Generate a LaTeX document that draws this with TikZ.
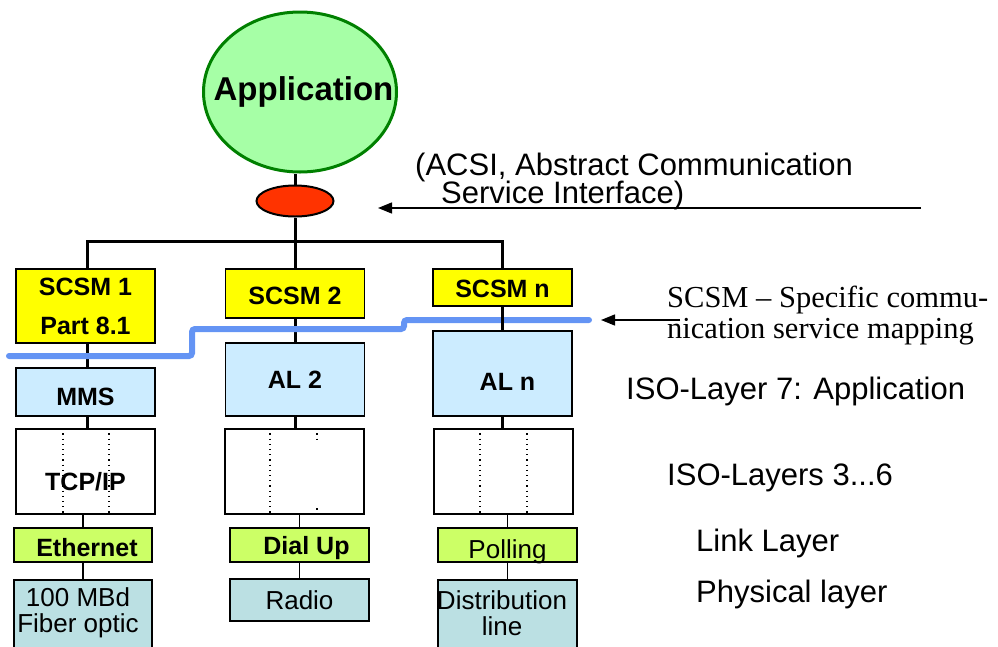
\documentclass[tikz,border=0pt]{standalone}
\usepackage{fontspec}
\setmainfont{Liberation Sans}
\newfontfamily\serifface{Liberation Serif}
\usetikzlibrary{arrows.meta,shapes.geometric}

\definecolor{appgreen}{HTML}{A6FFA6}
\definecolor{appborder}{HTML}{008000}
\definecolor{acsired}{HTML}{FF3300}
\definecolor{scsmyellow}{HTML}{FFFF00}
\definecolor{alblue}{HTML}{CCECFF}
\definecolor{linkgreen}{HTML}{CCFF66}
\definecolor{phyteal}{HTML}{BBE0E3}
\definecolor{mapblue}{HTML}{6494F4}

% set a label lower than the box centre while keeping its natural size
\newcommand\droplabel[2]{\leavevmode\vphantom{#2}\smash{\raisebox{-#1}{#2}}}

\begin{document}
\begin{tikzpicture}[x=1pt,y=-1pt,
  box/.style={draw, line width=1.6pt, inner sep=0pt, align=center, minimum width=139pt},
  boldlbl/.style={font=\fontsize{25}{39}\selectfont\bfseries},
  plainlbl/.style={font=\fontsize{26}{26.5}\selectfont},
  caption/.style={anchor=base west, inner sep=0pt, font=\fontsize{31}{36}\selectfont},
  serifcap/.style={anchor=base west, inner sep=0pt, font=\serifface\fontsize{30.5}{34}\selectfont},
  wire/.style={line width=3pt},
  thinwire/.style={line width=1.6pt},
  tick/.style={line width=1.1pt, dash pattern=on 1.2pt off 4pt},
  ptr/.style={line width=1.4pt, -{Triangle[length=14pt,width=11pt]}}
]
\useasboundingbox (0,0) rectangle (998,646);
\clip (0,0) rectangle (998,646);

% heading fragment at the top edge
\node (headfrag) [anchor=base west, inner sep=0pt, font=\serifface\fontsize{28}{30}\selectfont] at (183,-10) {g};

% application and service interface
\node (app) [ellipse, draw=appborder, fill=appgreen, line width=3pt, inner sep=0pt,
  minimum width=193pt, minimum height=160pt] at (300,92) {};
\node (apptxt) [inner sep=0pt, font=\fontsize{33}{36}\selectfont\bfseries] at (303.5,92) {Application};
\node (acsi) [ellipse, draw, fill=acsired, line width=2pt, inner sep=0pt,
  minimum width=77pt, minimum height=31pt] at (295,201) {};

% service mappings
\node (scsm1) [box, fill=scsmyellow, minimum height=74pt, boldlbl] at (85.5,306) {SCSM 1\\Part 8.1};
\node (scsm2) [box, fill=scsmyellow, minimum height=49pt, boldlbl] at (295,293.5) {\droplabel{2pt}{SCSM 2}};
\node (scsmn) [box, fill=scsmyellow, minimum height=37pt, boldlbl] at (502.5,287.5) {\droplabel{1pt}{SCSM n}};

% application layer
\node (mms) [box, fill=alblue, minimum height=48pt, boldlbl] at (85.5,392) {\droplabel{5pt}{MMS}};
\node (al2) [box, fill=alblue, minimum height=73pt, boldlbl] at (295,379.5) {AL 2};
\node (aln) [box, fill=alblue, minimum height=85pt, boldlbl] at (502.5,373.5) {\hspace*{10pt}\droplabel{8pt}{AL n}};

% layers 3..6
\node (tcp)  [box, fill=white, minimum height=85pt, boldlbl] at (85.5,471.5) {\droplabel{10pt}{TCP/IP}};
\node (mid2) [box, fill=white, minimum height=85pt] at (294.5,471.5) {};
\node (midn) [box, fill=white, minimum height=85pt] at (503.5,471.5) {};

% link layer
\node (eth)  [box, fill=linkgreen, minimum width=138pt, minimum height=34pt, boldlbl] at (83,545) {\hspace*{8pt}\droplabel{3pt}{Ethernet}};
\node (dial) [box, fill=linkgreen, minimum height=34pt, boldlbl] at (299.5,545) {\hspace*{14pt}\droplabel{3pt}{Dial Up}};
\node (poll) [box, fill=linkgreen, minimum height=34pt, plainlbl] at (507.5,545) {\droplabel{7pt}{Polling}};

% physical layer
\node (fiber) [box, fill=phyteal, minimum width=138pt, minimum height=89pt, anchor=north] at (83,579) {};
\node (fibertxt) [plainlbl, align=center, inner sep=0pt] at (78,613) {100 MBd\\Fiber optic};
\node (radio) [box, fill=phyteal, minimum height=42pt, plainlbl] at (299.5,600) {Radio};
\node (distr) [box, fill=phyteal, minimum height=89pt, anchor=north] at (507.5,579) {};
\node (distrtxt) [plainlbl, align=center, inner sep=0pt] at (502,613) {Distribution\\line};

% dotted separators inside the layer 3..6 boxes
\draw[tick] ([xshift=-22.5pt]tcp.north) -- ([xshift=-22.5pt]tcp.south);
\draw[tick] ([xshift=23.5pt]tcp.north) -- ([xshift=23.5pt]tcp.south);
\draw[tick] ([xshift=-24.5pt]mid2.north) -- ([xshift=-24.5pt]mid2.south);
\draw[tick] ([xshift=22.5pt]mid2.north) -- ++(0,12);
\draw[tick] ([xshift=22.5pt]mid2.south) -- ++(0,-10);
\draw[tick] ([xshift=-23.5pt]midn.north) -- ([xshift=-23.5pt]midn.south);
\draw[tick] ([xshift=23.5pt]midn.north) -- ([xshift=23.5pt]midn.south);

% bus and vertical connectors
\coordinate (busy) at (0,241);
\draw[wire] (acsi.north) -- (acsi.north |- app.south);
\draw[wire] (acsi.south) -- (acsi.south |- scsm2.north);
\draw[wire, line cap=rect] ([xshift=1.5pt]scsm1.north) -- ([xshift=1.5pt]scsm1.north |- busy) -- (scsmn.north |- busy) -- (scsmn.north);
\draw[wire] ([xshift=1.5pt]scsm1.south) -- ([xshift=1.5pt]mms.north);
\draw[wire] ([xshift=1.5pt]mms.south) -- ([xshift=1.5pt]tcp.north);
\draw[wire] (scsm2.south) -- (al2.north);
\draw[wire] (al2.south) -- (al2.south |- mid2.north);
\draw[wire] (aln.south) -- (aln.south |- midn.north);

\draw[thinwire] (eth.north |- tcp.south) -- (eth.north);
\draw[thinwire] (eth.south) -- (fiber.north);
\draw[thinwire] (dial.north |- mid2.south) -- (dial.north);
\draw[thinwire] (dial.south) -- (radio.north);
\draw[thinwire] (poll.north |- midn.south) -- (poll.north);
\draw[thinwire] (poll.south) -- (distr.north);

% mapping boundary
\coordinate (mapstart) at (9,356);
\coordinate (mapstep1) at (192,329);
\coordinate (mapstep2) at (404,320);
\coordinate (mapend) at (589,320);
\draw[mapblue, line width=6pt, rounded corners=3pt, line cap=round]
  (mapstart) -| (mapstep1) -| (mapstep2) -- (mapend);
\draw[wire] (scsmn.south) -- (aln.north);

% pointers and captions
\coordinate (acsitail) at (921,208);
\coordinate (acsitip) at (378,208);
\draw[ptr] (acsitail) -- (acsitip);
\coordinate (maptail) at (680,320);
\coordinate (maptip) at (601,320);
\draw[ptr] (maptail) -- (maptip);

\node (acsitxt1) [caption] at (415,175) {(ACSI, Abstract Communication};
\node (acsitxt2) [caption] at (441,203) {Service Interface)};
\node (maptxt1) [serifcap] at (667,307) {SCSM – Specific commu-};
\node (maptxt2) [serifcap] at (667,338) {nication service mapping};
\node (iso7) [caption] at (626,399) {ISO-Layer 7: Application};
\node (iso36) [caption] at (667,485) {ISO-Layers 3...6};
\node (linktxt) [caption] at (696,551) {Link Layer};
\node (phytxt) [caption] at (696,602) {Physical layer};
\end{tikzpicture}
\end{document}
